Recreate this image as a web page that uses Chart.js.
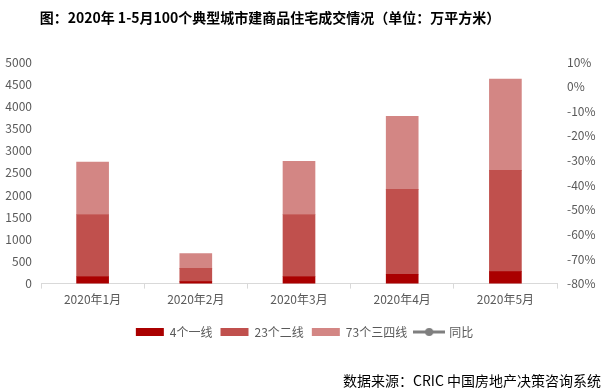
<!DOCTYPE html>
<html>
<head>
<meta charset="utf-8">
<script src="https://cdn.jsdelivr.net/npm/chart.js@4"></script>
<style>
  html, body { margin: 0; padding: 0; background: #fff; }
  #wrap { width: 609px; height: 392px; }
</style>
</head>
<body>
<div id="wrap"><canvas id="salesChart"></canvas></div>
<script>
// 数据
const months = ['2020年1月', '2020年2月', '2020年3月', '2020年4月', '2020年5月'];
const tier1 = [160, 45, 160, 210, 270];
const tier2 = [1400, 300, 1400, 1915, 2285];
const tier3 = [1180, 335, 1200, 1650, 2060];
const yoy = [null, null, null, null, null];
const leftTicks = [0, 500, 1000, 1500, 2000, 2500, 3000, 3500, 4000, 4500, 5000];
const rightTicks = [-80, -70, -60, -50, -40, -30, -20, -10, 0, 10];

const FONT = "'Noto Sans CJK SC', 'DejaVu Sans', sans-serif";
const GREY = '#595959';

// 图例里“同比”的线+圆点
function lineMarker() {
    const c = document.createElement('canvas');
    c.width = 32; c.height = 10;
    const g = c.getContext('2d');
    g.strokeStyle = '#7f7f7f';
    g.lineWidth = 3;
    g.beginPath(); g.moveTo(0, 5); g.lineTo(32, 5); g.stroke();
    g.fillStyle = '#7f7f7f';
    g.beginPath(); g.arc(16, 5, 4, 0, Math.PI * 2); g.fill();
    return c;
}
const marker = lineMarker();

// 标题和数据来源
const textPlugin = {
    id: 'texts',
    afterDraw(chart) {
        const ctx = chart.ctx;
        ctx.save();
        ctx.fillStyle = '#000';
        ctx.textBaseline = 'middle';
        ctx.font = 'bold 14px ' + FONT;
        ctx.textAlign = 'center';
        ctx.fillText('图：2020年 1-5月100个典型城市建商品住宅成交情况（单位：万平方米）', 270, 18);
        ctx.font = '14px ' + FONT;
        ctx.textAlign = 'right';
        ctx.fillText('数据来源：CRIC 中国房地产决策咨询系统', 601, 381);
        ctx.restore();
    }
};

const ctx = document.getElementById('salesChart').getContext('2d');
new Chart(ctx, {
    data: {
        labels: months,
        datasets: [
            { type: 'bar', label: '4个一线', data: tier1, backgroundColor: '#aa0000', yAxisID: 'y', order: 2 },
            { type: 'bar', label: '23个二线', data: tier2, backgroundColor: '#c0504d', yAxisID: 'y', order: 2 },
            { type: 'bar', label: '73个三四线', data: tier3, backgroundColor: '#d38684', yAxisID: 'y', order: 2 },
            { type: 'line', label: '同比', data: yoy, borderColor: '#7f7f7f', backgroundColor: '#7f7f7f',
              borderWidth: 2, pointRadius: 4, yAxisID: 'y1', order: 1, stack: 'yoy' }
        ]
    },
    options: {
        responsive: true,
        maintainAspectRatio: false,
        animation: false,
        layout: { padding: { top: 62, bottom: 44, left: 0, right: 0 } },
        datasets: { bar: { barThickness: 32 } },
        plugins: {
            title: { display: false },
            tooltip: { enabled: false },
            legend: {
                position: 'bottom',
                labels: {
                    usePointStyle: true,
                    pointStyleWidth: 28,
                    boxHeight: 8,
                    padding: 8,
                    color: GREY,
                    font: { family: FONT, size: 12 },
                    generateLabels(chart) {
                        return chart.data.datasets.map((ds, i) => ({
                            text: ds.label,
                            fillStyle: ds.backgroundColor,
                            strokeStyle: ds.backgroundColor,
                            lineWidth: 0,
                            fontColor: GREY,
                            pointStyle: ds.type === 'line' ? marker : 'rect',
                            datasetIndex: i,
                            hidden: false
                        }));
                    }
                }
            }
        },
        scales: {
            x: {
                stacked: true,
                grid: { display: true, drawOnChartArea: false, offset: true, color: '#d9d9d9', tickLength: 5 },
                border: { display: true, color: '#d9d9d9' },
                ticks: { color: GREY, font: { family: FONT, size: 12 }, padding: 4 },
                afterFit(scale) { scale.height += 7; }
            },
            y: {
                stacked: true,
                position: 'left',
                min: 0,
                max: 5000,
                afterBuildTicks(scale) { scale.ticks = leftTicks.map(v => ({ value: v })); },
                afterFit(scale) { scale.width = 41; },
                grid: { display: false, drawTicks: false },
                border: { display: false },
                ticks: { color: GREY, font: { family: FONT, size: 12 }, padding: 9, callback: v => String(v) }
            },
            y1: {
                position: 'right',
                min: -80,
                max: 10,
                afterBuildTicks(scale) { scale.ticks = rightTicks.map(v => ({ value: v })); },
                afterFit(scale) { scale.width = 52; },
                grid: { display: false, drawTicks: false },
                border: { display: false },
                ticks: {
                    color: GREY,
                    font: { family: FONT, size: 12 },
                    padding: 10,
                    callback: v => v + '%'
                }
            }
        }
    },
    plugins: [textPlugin]
});
</script>
</body>
</html>
